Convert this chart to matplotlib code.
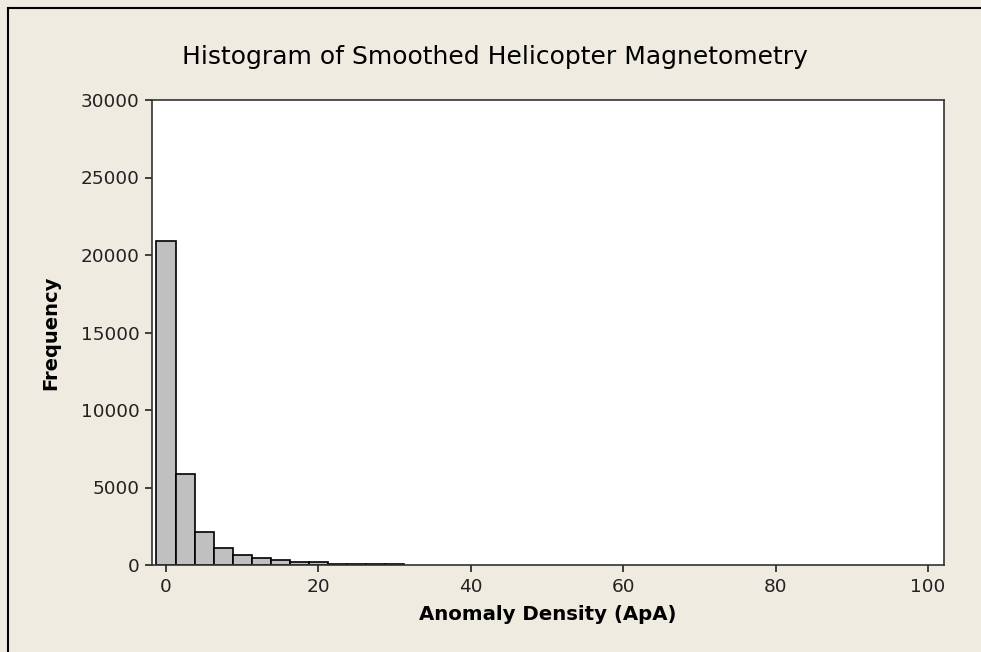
import numpy as np
import matplotlib
matplotlib.use("Agg")
import matplotlib.pyplot as plt
from matplotlib.lines import Line2D

# bin edges and counts (bin width 2.5, centred on multiples of 2.5)
bin_edges = [-1.25 + 2.5 * i for i in range(14)]
counts = [20900, 5870, 2150, 1080, 630, 430, 300, 180, 190, 70, 60, 55, 50]

title = "Histogram of Smoothed Helicopter Magnetometry"
x_label = "Anomaly Density (ApA)"
y_label = "Frequency"
x_ticks = [0, 20, 40, 60, 80, 100]
y_ticks = [0, 5000, 10000, 15000, 20000, 25000, 30000]

bg = "#efebe1"

fig = plt.figure(figsize=(9.81, 6.52), dpi=100, facecolor=bg)
ax = fig.add_axes([152 / 981, 1 - 565 / 652, (944 - 152) / 981, (565 - 100) / 652])
ax.set_facecolor("white")

centers = (np.array(bin_edges[:-1]) + np.array(bin_edges[1:])) / 2
ax.hist(centers, bins=bin_edges, weights=counts, color="#c0c0c0",
        edgecolor="black", linewidth=1.2)

ax.set_xlim(-1.84, 102.1)
ax.set_ylim(0, 30000)
ax.set_xticks(x_ticks)
ax.set_yticks(y_ticks)
ax.tick_params(direction="out", length=5, width=1.2, labelsize=13.3,
               colors="#222222", pad=4)
for s in ax.spines.values():
    s.set_linewidth(1.2)
    s.set_color("#333333")

fig.text(495 / 981, 1 - 64 / 652, title, fontsize=18, ha="center", va="baseline")
ax.set_xlabel(x_label, fontsize=14.2, fontweight="bold", labelpad=7)
ax.set_ylabel(y_label, fontsize=14, fontweight="bold", labelpad=15)

# frame edges of the original screenshot (left and top only)
fig.add_artist(Line2D([8 / 981, 8 / 981], [0, 1 - 8 / 652], color="black", lw=1.5))
fig.add_artist(Line2D([8 / 981, 1], [1 - 8 / 652, 1 - 8 / 652], color="black", lw=1.5))

fig.savefig("out.png", dpi=100, facecolor=bg)
